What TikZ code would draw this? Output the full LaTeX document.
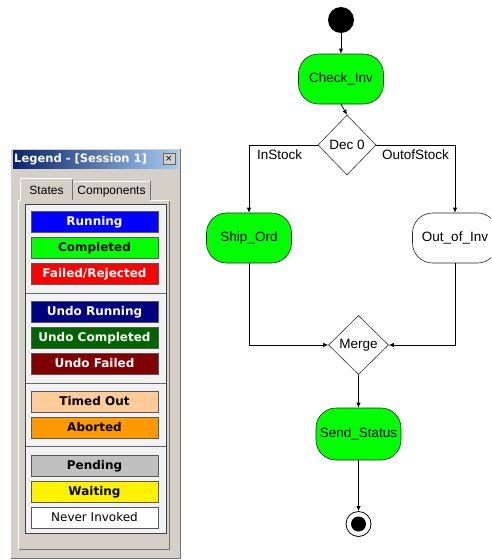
\documentclass[tikz,border=0pt]{standalone}
\usepackage{fontspec}
\setmainfont{Liberation Sans}
\newfontfamily\dejavu{DejaVu Sans}
\usetikzlibrary{shapes.geometric,arrows.meta}
\definecolor{winface}{HTML}{D4D0C8}
\definecolor{paneface}{HTML}{F2F2F2}
\definecolor{titledark}{HTML}{0A246A}
\definecolor{titlelight}{HTML}{A6CAF0}
\definecolor{okgreen}{HTML}{00FF00}
\definecolor{undoblue}{HTML}{000080}
\definecolor{undogreen}{HTML}{006400}
\definecolor{undored}{HTML}{800000}
\definecolor{timedout}{HTML}{FFCC99}
\definecolor{aborted}{HTML}{FF9900}
\definecolor{pending}{HTML}{C0C0C0}
\newcommand\flowfont{\fontsize{13.5}{15}\selectfont}
\newcommand\btnfont{\dejavu\fontsize{12}{14}\selectfont}
\begin{document}
\begin{tikzpicture}[x=1pt,y=-1pt,
  flow/.style={draw=black,line width=0.8pt,-{Latex[length=5pt,width=4.5pt]}},
  activity/.style={draw=black!85,line width=0.6pt,rounded corners=20pt,
    minimum width=85pt,minimum height=50pt,inner sep=0pt,font=\flowfont},
  choice/.style={diamond,draw=black!80,line width=0.6pt,fill=white,
    inner sep=0pt,font=\flowfont},
  edgelbl/.style={font=\flowfont,anchor=west,inner sep=0pt},
  statebtn/.style={draw=black!65,line width=0.6pt,minimum width=127pt,
    minimum height=21pt,inner sep=0pt,text height=8.5pt,text depth=0.5pt,
    font=\btnfont},
  sepline/.style={draw=black!60,line width=0.9pt},
  tabtxt/.style={font=\fontsize{12}{14}\selectfont,inner sep=0pt},
]
\clip (0,0) rectangle (491,560);
\fill[white] (0,0) rectangle (491,560);

% legend window
\fill[winface] (10,148) rectangle (181,559);
\draw[white,line width=1pt] (10.5,558.5) -- (10.5,148.5) -- (180.5,148.5);
\draw[black!55,line width=1pt] (180.5,148.5) -- (180.5,558.5) -- (10.5,558.5);
\shade[left color=titledark,right color=titlelight] (13,150) rectangle (178,168);
\node[anchor=west,text=white,inner sep=0pt,
  font=\dejavu\bfseries\fontsize{11.5}{13}\selectfont] (title) at (14,159)
  {Legend - [Session 1]};
\node[draw=black!60,fill=winface,minimum width=12pt,minimum height=11pt,inner sep=0pt,
  font=\dejavu\fontsize{9}{9}\selectfont] (closebtn) at (169,158.5) {×};

% tabs and panel
\fill[winface] (18,200) rectangle (170,550);
\draw[white,line width=1pt] (18.5,549.5) -- (18.5,200.5) -- (72,200.5);
\draw[white,line width=1pt] (150,200.5) -- (169.5,200.5);
\draw[black!55,line width=1pt] (169.5,200.5) -- (169.5,549.5) -- (18.5,549.5);
\draw[black!55,line width=1pt,fill=winface] (72.5,200) -- (72.5,181.5) -- (150.5,181.5) -- (150.5,200);
\draw[white,line width=1pt] (72.5,200) -- (72.5,181.5) -- (150,181.5);
\fill[winface] (20,178) rectangle (73,201);
\draw[white,line width=1pt] (20.5,201) -- (20.5,178.5) -- (72.5,178.5);
\draw[black!55,line width=1pt] (72.5,178.5) -- (72.5,200);
\node[tabtxt] (tabstates) at (46.5,190) {States};
\node[tabtxt] (tabcomps) at (111.5,192) {Components};
\draw[black!75,line width=1pt,fill=paneface] (25.5,204.5) rectangle (166,533);

% state buttons
\foreach \yy/\bg/\fg/\wt/\txt [count=\i] in {
    221.5/blue/white/\bfseries/Running,
    247.5/okgreen/black/\bfseries/Completed,
    273.5/red/white/\bfseries/Failed\slash Rejected,
    311.5/undoblue/white/\bfseries/Undo Running,
    337.5/undogreen/white/\bfseries/Undo Completed,
    363.5/undored/white/\bfseries/Undo Failed,
    401.5/timedout/black/\bfseries/Timed Out,
    427.5/aborted/black/\bfseries/Aborted,
    465.5/pending/black/\bfseries/Pending,
    491.5/yellow/black/\bfseries/Waiting,
    517.5/white/black/\mdseries/Never Invoked}{
  \node[statebtn,fill=\bg,text=\fg] (state\i) at (94.5,\yy) {\wt\txt};
}
\foreach \yy in {293,383,446}{
  \draw[sepline] (26,\yy) -- (165.5,\yy);
}

% activity diagram
\node[circle,fill=black,minimum size=26pt,inner sep=0pt] (start) at (341,20) {};
\node[activity,fill=okgreen] (chk) at (341,79) {Check\_Inv};
\node[choice,minimum width=58pt,minimum height=60pt] (dec) at (347,145) {Dec 0};
\node[activity,fill=okgreen] (ship) at (249,238) {Ship\_Ord};
\node[activity,fill=white] (oos) at (455,238) {Out\_of\_Inv};
\node[choice,minimum width=60pt,minimum height=59pt] (merge) at (358.5,345) {Merge};
\node[activity,fill=okgreen,minimum height=52pt] (send) at (358.5,434) {Send\_Status};
\node[circle,draw=black,line width=0.8pt,minimum size=25pt,inner sep=0pt] (stop) at (358.5,524) {};
\node[circle,fill=black,minimum size=15pt,inner sep=0pt] (stopdot) at (stop) {};

\node[edgelbl] (instock) at (257,155) {InStock};
\node[edgelbl] (outstock) at (382,155) {OutofStock};

\draw[flow] (start) -- (chk);
\draw[flow] (chk.south) -- (dec.north);
\draw[flow] (dec.west) -| (ship.north);
\draw[flow] (dec.east) -| (oos.north);
\draw[flow] (ship.south) |- (merge.west);
\draw[flow] (oos.south) |- (merge.east);
\draw[flow] (merge.south) -- (send.north);
\draw[flow] (send.south) -- (stop.north);
\end{tikzpicture}
\end{document}
